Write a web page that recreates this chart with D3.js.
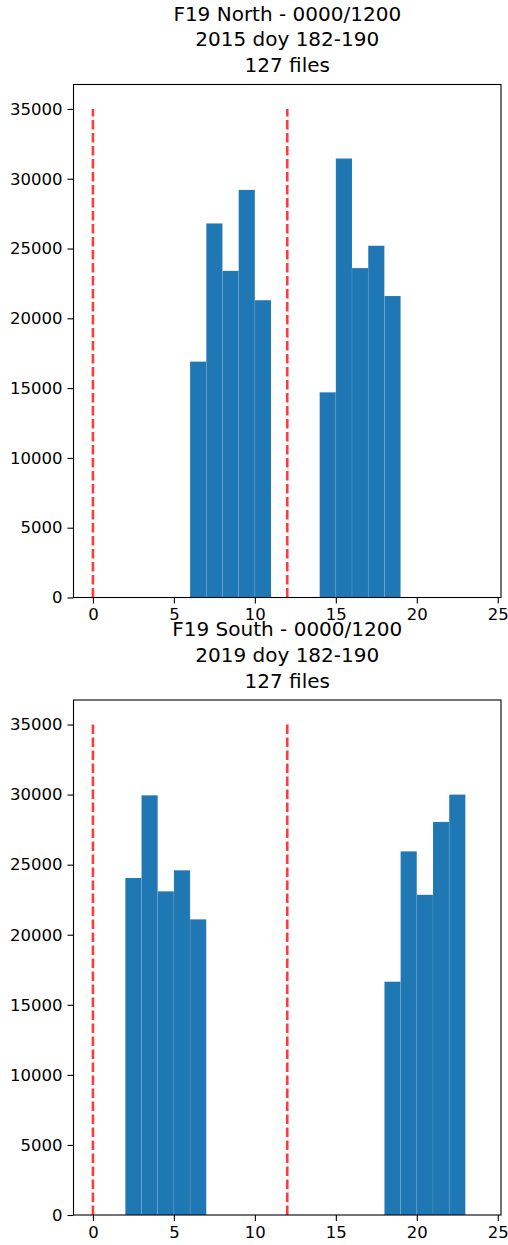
<!DOCTYPE html>
<html>
<head>
<meta charset="utf-8">
<script src="https://cdn.jsdelivr.net/npm/d3@7"></script>
<style>
  html, body { margin: 0; padding: 0; background: #fff; }
  svg { display: block; }
  text { font-family: "DejaVu Sans", sans-serif; fill: #000; }
</style>
</head>
<body>
<svg id="chart" width="508" height="1245"></svg>
<script>
// Hourly histogram counts (bin start hour, width 1 hour)
const northTitle = ["F19 North - 0000/1200", "2015 doy 182-190", "127 files"];
const northBins = [6, 7, 8, 9, 10, 14, 15, 16, 17, 18];
const northCounts = [16900, 26800, 23400, 29200, 21300, 14700, 31450, 23600, 25200, 21600];

const southTitle = ["F19 South - 0000/1200", "2019 doy 182-190", "127 files"];
const southBins = [2, 3, 4, 5, 6, 18, 19, 20, 21, 22];
const southCounts = [24050, 29950, 23100, 24600, 21100, 16650, 25950, 22850, 28050, 30000];

// Dashed reference hours and their height
const refHours = [0, 12];
const refTop = 35000;

const xTicks = [0, 5, 10, 15, 20, 25];
const yTicks = [0, 5000, 10000, 15000, 20000, 25000, 30000, 35000];

const svg = d3.select("#chart");
const left = 73.5, right = 501;

function panel(top, bottom, titleLines, bins, counts) {
  const x = d3.scaleLinear().domain([-1.2, 25.2]).range([left, right]);
  const y = d3.scaleLinear().domain([0, 36750]).range([bottom, top]);
  const g = svg.append("g");

  // bars
  g.selectAll("rect.bar")
    .data(bins.map((b, i) => ({ b, v: counts[i] })))
    .enter().append("rect")
    .attr("class", "bar")
    .attr("x", d => x(d.b))
    .attr("width", d => x(d.b + 1) - x(d.b))
    .attr("y", d => y(d.v))
    .attr("height", d => y(0) - y(d.v))
    .attr("fill", "#1f77b4")
    .attr("stroke", "rgba(255,255,255,0.15)")
    .attr("stroke-width", 0.6);

  // dashed reference lines
  g.selectAll("line.ref")
    .data(refHours)
    .enter().append("line")
    .attr("x1", d => x(d)).attr("x2", d => x(d))
    .attr("y1", y(0)).attr("y2", y(refTop))
    .attr("stroke", "#ff3b3b")
    .attr("stroke-width", 2.6)
    .attr("stroke-dasharray", "9.5,3.5");

  // axes
  const xAxis = d3.axisBottom(x).tickValues(xTicks).tickSize(6).tickPadding(5);
  const yAxis = d3.axisLeft(y).tickValues(yTicks).tickSize(6).tickPadding(5).tickFormat(d3.format("d"));

  const gx = g.append("g").attr("transform", `translate(0,${bottom})`).call(xAxis);
  const gy = g.append("g").attr("transform", `translate(${left},0)`).call(yAxis);
  [gx, gy].forEach(a => {
    a.select(".domain").remove();
    a.selectAll(".tick line").attr("stroke", "#000").attr("stroke-width", 1.1);
    a.selectAll(".tick text").attr("font-size", "16.5px").attr("fill", "#000")
      .style("font-family", "'DejaVu Sans', sans-serif");
  });

  // frame
  g.append("rect")
    .attr("x", left).attr("y", top)
    .attr("width", right - left).attr("height", bottom - top)
    .attr("fill", "none").attr("stroke", "#000").attr("stroke-width", 1.1);

  // title
  const cx = (left + right) / 2;
  const baseLast = top - 12.3;
  titleLines.forEach((t, i) => {
    g.append("text")
      .attr("x", cx)
      .attr("y", baseLast - (titleLines.length - 1 - i) * 25.8)
      .attr("text-anchor", "middle")
      .attr("font-size", "20px")
      .text(t);
  });
}

panel(84.5, 597.5, northTitle, northBins, northCounts);
panel(700, 1215, southTitle, southBins, southCounts);
</script>
</body>
</html>
